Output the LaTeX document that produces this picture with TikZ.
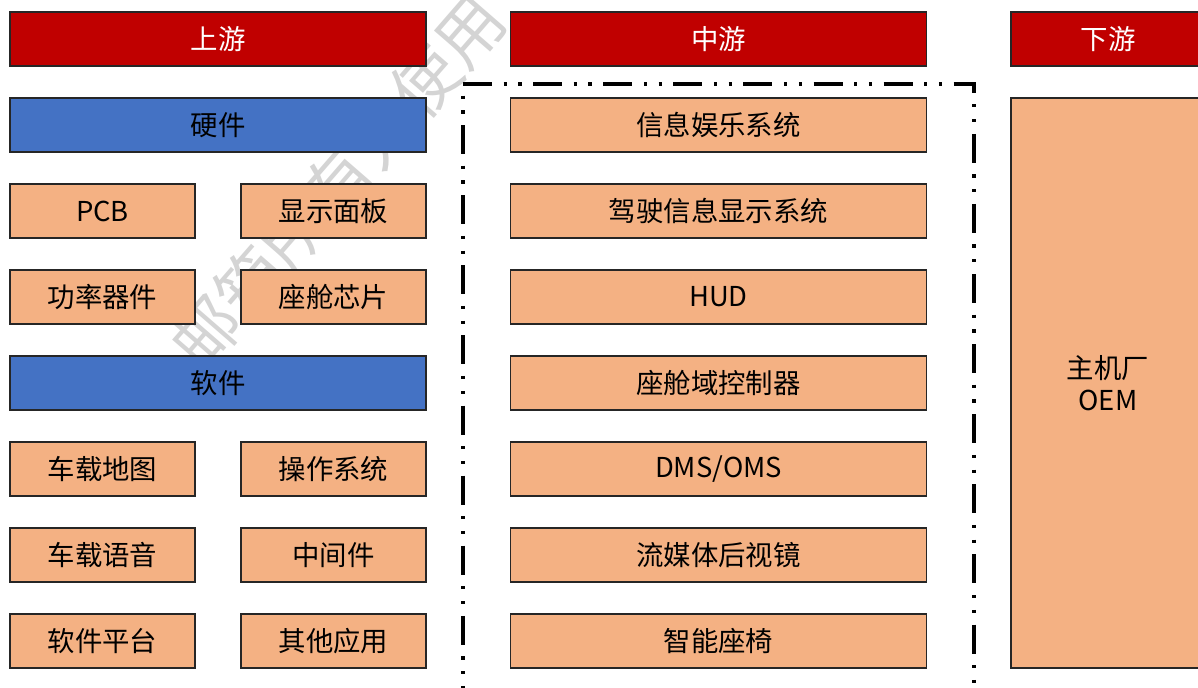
\documentclass[tikz,border=0pt]{standalone}
\usepackage{fontspec}
\setmainfont{Noto Sans CJK SC}
\definecolor{hdred}{HTML}{C00000}
\definecolor{catblue}{HTML}{4472C4}
\definecolor{itemorange}{HTML}{F4B183}
\definecolor{wmgray}{HTML}{D4D4D4}
\begin{document}
\begin{tikzpicture}[x=0.02cm,y=-0.02cm,
  basebox/.style={draw=black!85, line width=0.7pt, minimum height=1.08cm, inner sep=0pt,
    font=\fontsize{15.6pt}{18pt}\selectfont},
  header/.style={basebox, fill=hdred, text=white},
  category/.style={basebox, fill=catblue, text=black, minimum width=8.32cm},
  item/.style={basebox, fill=itemorange, text=black},
  wide/.style={minimum width=8.32cm},
  small/.style={minimum width=3.70cm},
  dashframe/.style={line width=1.75pt, dash pattern=on 16.5pt off 6.6pt on 1.8pt off 6.6pt on 1.8pt off 6.6pt}
]
\useasboundingbox (0,0) rectangle (1198,688);
\clip (0,0) rectangle (1198,688);
% watermark
\node[rotate=49, text=wmgray, font=\fontsize{38pt}{38pt}\selectfont, inner sep=0pt] (wm) at (338,182) {邮箱所有人使用};
% headers
\node[header, wide] (up) at (218,39) {上游};
\node[header, wide] (mid) at (718.5,39) {中游};
\node[header, minimum width=3.88cm] (down) at (1108,39) {下游};
% upstream
\node[category] (hw) at (218,125) {硬件};
\node[item, small] (pcb) at (102.5,211) {PCB};
\node[item, small] (panel) at (333.5,211) {显示面板};
\node[item, small] (power) at (102.5,297) {功率器件};
\node[item, small] (chip) at (333.5,297) {座舱芯片};
\node[category] (sw) at (218,383) {软件};
\node[item, small] (map) at (102.5,469) {车载地图};
\node[item, small] (os) at (333.5,469) {操作系统};
\node[item, small] (voice) at (102.5,555) {车载语音};
\node[item, small] (middleware) at (333.5,555) {中间件};
\node[item, small] (platform) at (102.5,641) {软件平台};
\node[item, small] (apps) at (333.5,641) {其他应用};
% midstream
\node[item, wide] (ivi) at (718.5,125) {信息娱乐系统};
\node[item, wide] (cluster) at (718.5,211) {驾驶信息显示系统};
\node[item, wide] (hud) at (718.5,297) {HUD};
\node[item, wide] (dcu) at (718.5,383) {座舱域控制器};
\node[item, wide] (dms) at (718.5,469) {DMS/OMS};
\node[item, wide] (mirror) at (718.5,555) {流媒体后视镜};
\node[item, wide] (seat) at (718.5,641) {智能座椅};
% downstream
\node[item, minimum width=3.88cm, minimum height=11.4cm, align=center] (oem) at (1108,383) {主机厂\\OEM};
% dashed frame
\coordinate (ftl) at (463,84);
\coordinate (ftr) at (974,84);
\coordinate (fbl) at (463,720);
\coordinate (fbr) at (974,720);
\draw[dashframe] (ftl) -- (ftr) -- (fbr);
\draw[dashframe, dash phase=16.5pt] (ftl) -- (fbl);
\end{tikzpicture}
\end{document}
